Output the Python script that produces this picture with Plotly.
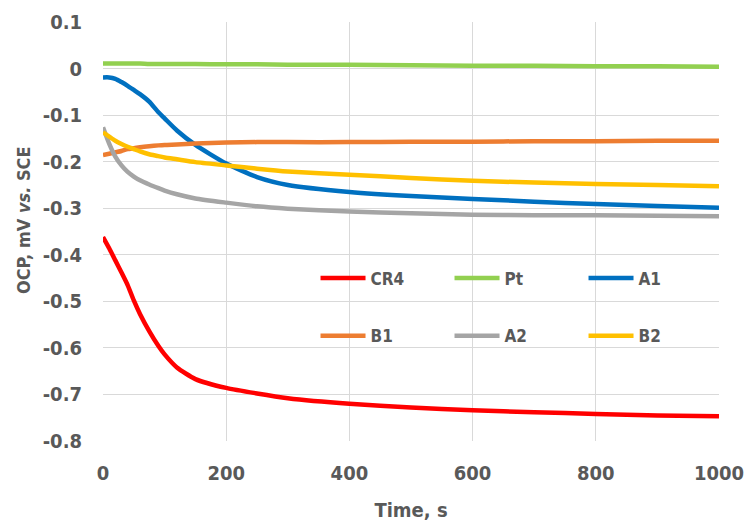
import plotly.graph_objects as go

# Sampling times (s)
time_s = [0, 10, 20, 30, 40, 50, 60, 75, 90, 100, 120, 150, 200, 250, 300,
          400, 500, 600, 700, 800, 900, 1000]

# Open-circuit potential (V vs. SCE) per electrode
ocp_cr4 = [-0.362, -0.386, -0.412, -0.438, -0.465, -0.498, -0.527, -0.564, -0.596,
           -0.614, -0.642, -0.667, -0.686, -0.698, -0.708, -0.720, -0.728, -0.734,
           -0.738, -0.742, -0.745, -0.747]
ocp_pt = [0.011, 0.011, 0.011, 0.011, 0.011, 0.011, 0.011, 0.010, 0.010, 0.010,
          0.010, 0.010, 0.009, 0.009, 0.008, 0.008, 0.007, 0.006, 0.006, 0.005,
          0.005, 0.004]
ocp_a1 = [-0.019, -0.019, -0.022, -0.029, -0.037, -0.046, -0.055, -0.071, -0.094,
          -0.107, -0.133, -0.164, -0.204, -0.233, -0.250, -0.265, -0.274, -0.280,
          -0.286, -0.291, -0.295, -0.299]
ocp_b1 = [-0.186, -0.183, -0.180, -0.177, -0.173, -0.171, -0.169, -0.167, -0.165,
          -0.164, -0.163, -0.161, -0.159, -0.158, -0.158, -0.158, -0.157, -0.157,
          -0.156, -0.156, -0.155, -0.155]
ocp_a2 = [-0.126, -0.161, -0.189, -0.208, -0.222, -0.232, -0.240, -0.249, -0.257,
          -0.262, -0.270, -0.279, -0.288, -0.296, -0.301, -0.307, -0.311, -0.314,
          -0.315, -0.315, -0.316, -0.317]
ocp_b2 = [-0.137, -0.146, -0.155, -0.162, -0.168, -0.173, -0.178, -0.184, -0.188,
          -0.191, -0.195, -0.201, -0.208, -0.215, -0.221, -0.228, -0.235, -0.241,
          -0.245, -0.248, -0.250, -0.253]

series = [
    ("CR4", ocp_cr4, "#FF0000", "legend"),
    ("Pt", ocp_pt, "#92D050", "legend"),
    ("A1", ocp_a1, "#0070C0", "legend"),
    ("B1", ocp_b1, "#ED7D31", "legend2"),
    ("A2", ocp_a2, "#A5A5A5", "legend2"),
    ("B2", ocp_b2, "#FFC000", "legend2"),
]

x_ticks = [0, 200, 400, 600, 800, 1000]
y_ticks = [0.1, 0, -0.1, -0.2, -0.3, -0.4, -0.5, -0.6, -0.7, -0.8]
y_tick_text = ["0.1", "0", "-0.1", "-0.2", "-0.3", "-0.4", "-0.5", "-0.6", "-0.7", "-0.8"]

FONT = "'Liberation Sans Narrow', 'DejaVu Sans Condensed', Lato, sans-serif"
TEXT = "#595959"
GRID = "#D9D9D9"

fig = go.Figure()
for name, vals, color, leg in series:
    fig.add_trace(go.Scatter(
        x=time_s, y=vals, name=name, mode="lines",
        line=dict(color=color, width=4.5, shape="spline", smoothing=0.6),
        legend=leg,
    ))

legend_common = dict(
    orientation="h", xanchor="left", yanchor="middle",
    font=dict(family=FONT, size=17, color=TEXT, weight="bold"),
    bgcolor="rgba(0,0,0,0)", entrywidth=74, entrywidthmode="pixels",
    itemwidth=45, traceorder="normal",
)

fig.update_layout(
    width=744, height=522,
    margin=dict(l=103, r=25, t=22, b=81, autoexpand=False),
    paper_bgcolor="white", plot_bgcolor="white",
    font=dict(family=FONT, color=TEXT),
    legend=dict(x=0.345, y=0.388, **legend_common),
    legend2=dict(x=0.345, y=0.25, **legend_common),
    xaxis=dict(
        range=[0, 1000], tickvals=x_ticks, ticktext=[str(v) for v in x_ticks],
        showgrid=True, gridcolor=GRID, gridwidth=1.3,
        showline=False, zeroline=False, ticks="", ticklabelstandoff=18,
        ticklabeloverflow="allow",
        tickfont=dict(family=FONT, size=20, color=TEXT, weight="bold"),
        title=dict(text="Time, s", standoff=18,
                   font=dict(family=FONT, size=20, color=TEXT, weight="bold")),
    ),
    yaxis=dict(
        range=[-0.8, 0.1], tickvals=y_ticks, ticktext=y_tick_text,
        showgrid=True, gridcolor=GRID, gridwidth=1.3,
        showline=False, zeroline=False, ticks="", ticklabelstandoff=20,
        ticklabeloverflow="allow",
        tickfont=dict(family=FONT, size=20, color=TEXT, weight="bold"),
    ),
    annotations=[dict(
        text="OCP, mV <i>vs.</i> SCE", textangle=-90, showarrow=False,
        xref="paper", yref="paper", x=-0.13, y=0.527,
        xanchor="center", yanchor="middle",
        font=dict(family=FONT, size=18, color=TEXT, weight="bold"),
    )],
)

fig.write_html("out.html")
